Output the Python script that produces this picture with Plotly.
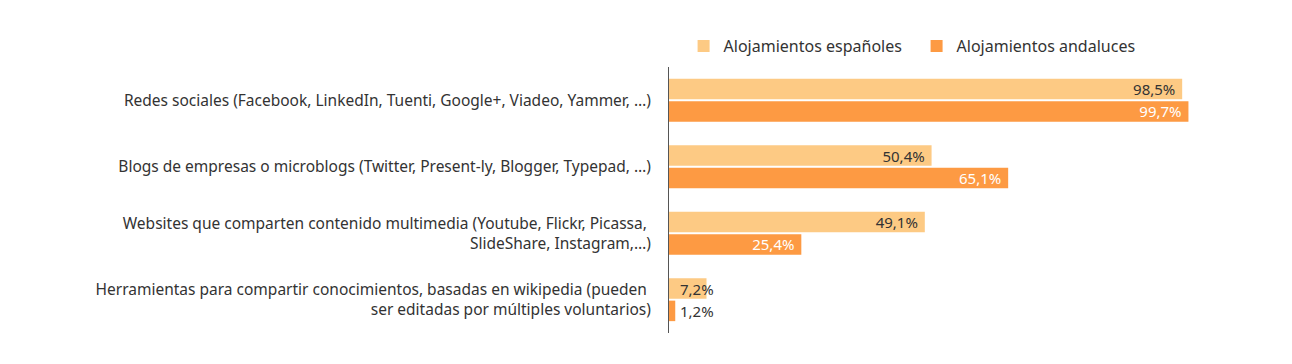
import plotly.graph_objects as go

categories = [
    "Redes sociales (Facebook, LinkedIn, Tuenti, Google+, Viadeo, Yammer, …)",
    "Blogs de empresas o microblogs (Twitter, Present-ly, Blogger, Typepad, …)",
    "Websites que comparten contenido multimedia (Youtube, Flickr, Picassa, <br>SlideShare, Instagram,…)",
    "Herramientas para compartir conocimientos, basadas en wikipedia (pueden <br>ser editadas por múltiples voluntarios)",
]
espanoles = [98.5, 50.4, 49.1, 7.2]
andaluces = [99.7, 65.1, 25.4, 1.2]
series_names = ["Alojamientos españoles", "Alojamientos andaluces"]
colors = ["#FDCA84", "#FD9A43"]
text_colors = ["#333333", "#FFFFFF"]

FONT = "Noto Sans"
INSIDE_MIN = 15

def fmt(v):
    return f"{v:.1f}".replace(".", ",") + "%"

fig = go.Figure()
for name, vals, col, tcol in zip(series_names, [espanoles, andaluces], colors, text_colors):
    fig.add_trace(go.Bar(
        name=name, y=categories, x=vals, orientation="h",
        marker=dict(color=col, line=dict(width=0)),
        text=[fmt(v) + "\u00a0" if v >= INSIDE_MIN else "" for v in vals],
        textposition="inside", insidetextanchor="end",
        textfont=dict(family=FONT, size=15, color=tcol),
        constraintext="none",
        hoverinfo="skip",
    ))

# small values: labels placed just right of the axis
for i, (name, vals) in enumerate(zip(series_names, [espanoles, andaluces])):
    for cat, v in zip(categories, vals):
        if v < INSIDE_MIN:
            fig.add_annotation(
                x=0, y=cat, xref="x", yref="y", text=fmt(v), showarrow=False,
                xanchor="left", xshift=9, yshift=11 if i == 0 else -11,
                font=dict(family=FONT, size=15, color="#333333"),
            )

fig.update_layout(
    width=1292, height=364,
    margin=dict(l=661, r=110, t=59, b=39, autoexpand=False),
    paper_bgcolor="white", plot_bgcolor="white",
    barmode="group", bargap=0.33, bargroupgap=0.08,
    font=dict(family=FONT, size=15.5, color="#333333"),
    showlegend=True,
    legend=dict(orientation="h", x=0.028, xanchor="left", y=1.079, yanchor="middle",
                font=dict(family=FONT, size=16, color="#333333"),
                entrywidth=188, traceorder="normal"),
    xaxis=dict(range=[0, 100], visible=False, fixedrange=True),
    yaxis=dict(autorange="reversed", showline=True, linecolor="#555555", linewidth=1,
               ticks="", showgrid=False, ticklabelstandoff=14, automargin=False,
               tickfont=dict(family=FONT, size=15.5, color="#333333")),
)

fig.write_html("out.html")
